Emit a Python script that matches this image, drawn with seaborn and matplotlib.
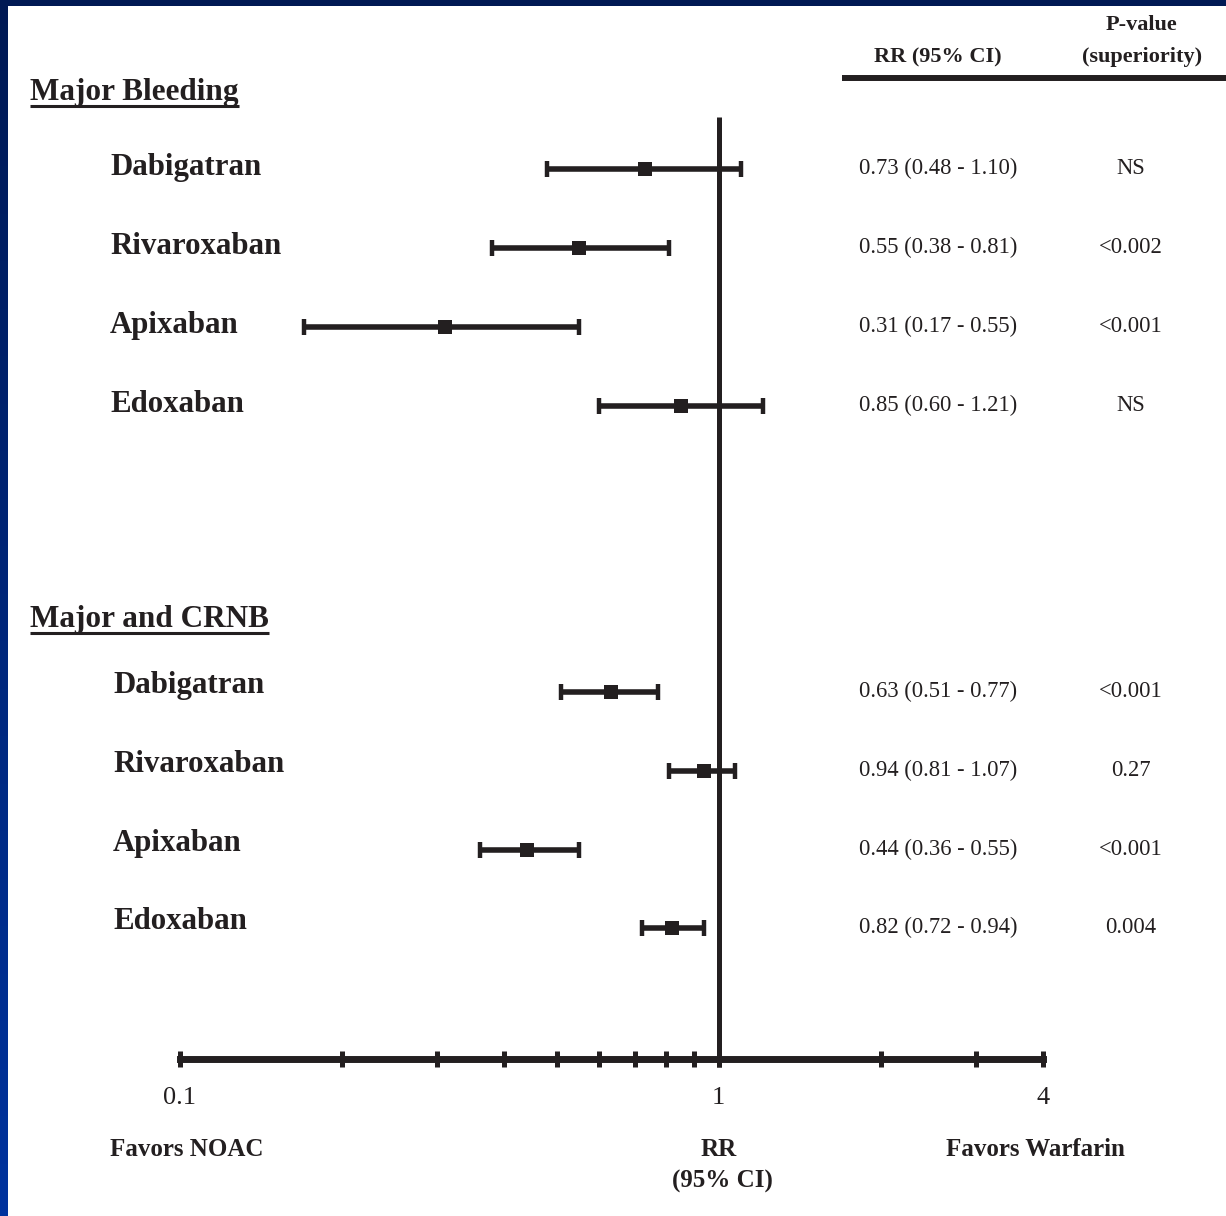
import numpy as np
import pandas as pd
import matplotlib
matplotlib.use("Agg")
import matplotlib.pyplot as plt
import matplotlib.transforms as mtransforms
from matplotlib.patches import Rectangle
from matplotlib.ticker import FixedLocator, NullFormatter
import seaborn as sns

# --- data ---
drugs = ["Dabigatran", "Rivaroxaban", "Apixaban", "Edoxaban"]
groups = ["Major Bleeding", "Major and CRNB"]

mb_rr = [0.73, 0.55, 0.31, 0.85]
mb_lo = [0.48, 0.38, 0.17, 0.60]
mb_hi = [1.10, 0.81, 0.55, 1.21]
mb_p = ["NS", "<0.002", "<0.001", "NS"]

crnb_rr = [0.63, 0.94, 0.44, 0.82]
crnb_lo = [0.51, 0.81, 0.36, 0.72]
crnb_hi = [0.77, 1.07, 0.55, 0.94]
crnb_p = ["<0.001", "0.27", "<0.001", "0.004"]

major_ticks = [0.1, 1, 4]
major_labels = ["0.1", "1", "4"]
minor_ticks = [0.2, 0.3, 0.4, 0.5, 0.6, 0.7, 0.8, 0.9, 2, 3]

# --- layout (pixel rows of the 1226x1216 canvas) ---
W, H = 1226, 1216
row_y = [[169, 248, 327, 406], [692, 771, 850, 928]]
head_base = [100, 627]
label_x = [110, 113]
label_dy = [6, 1]
axis_y = 1059
ink = "#231f20"

df = pd.DataFrame({
    "group": [groups[0]] * 4 + [groups[1]] * 4,
    "drug": drugs * 2,
    "rr": mb_rr + crnb_rr,
    "lo": mb_lo + crnb_lo,
    "hi": mb_hi + crnb_hi,
    "p": mb_p + crnb_p,
    "y": row_y[0] + row_y[1],
})

sns.set_theme(style="white")
plt.rcParams["font.family"] = ["Liberation Serif", "DejaVu Serif"]

fig = plt.figure(figsize=(W / 100, H / 100), dpi=100)

# blue frame with white slide area
bg = fig.add_axes([0, 0, 1, 1])
grad = np.linspace(0, 1, 256).reshape(-1, 1)
top_c = np.array([0.0, 0.10, 0.33])
bot_c = np.array([0.0, 0.20, 0.62])
img = top_c + (bot_c - top_c) * grad[..., None]
bg.imshow(img, extent=[0, 1, 0, 1], aspect="auto", origin="upper")
bg.add_patch(Rectangle((8 / W, 0), 1 - 8 / W, 1 - 6 / H, color="white", lw=0))
bg.set_xlim(0, 1)
bg.set_ylim(0, 1)
bg.axis("off")

ax = fig.add_axes([0, 0, 1, 1])
ax.patch.set_alpha(0)
ax.set_xscale("log")
ppd = (1043 - 180) / np.log10(4 / 0.1)
xmin = 0.1 * 10 ** (-180 / ppd)
xmax = 0.1 * 10 ** ((W - 180) / ppd)

ax.errorbar(df["rr"], df["y"], xerr=[df["rr"] - df["lo"], df["hi"] - df["rr"]],
            fmt="none", ecolor=ink, elinewidth=4, capsize=5.6, capthick=3.2, zorder=2)
sns.scatterplot(data=df, x="rr", y="y", marker="s", s=100, color=ink,
                linewidth=0, ax=ax, zorder=3)
ax.vlines(1, 117, 1067, color=ink, lw=3.6, zorder=1)

ax.set_xlim(xmin, xmax)
ax.set_ylim(H, 0)
ax.set_xlabel("")
ax.set_ylabel("")
ax.set_yticks([])

for s in ["top", "left", "right"]:
    ax.spines[s].set_visible(False)
ax.spines["bottom"].set_position(("data", axis_y))
ax.spines["bottom"].set_linewidth(5)
ax.spines["bottom"].set_color(ink)
ax.spines["bottom"].set_bounds(0.1, 4)
ax.xaxis.set_major_locator(FixedLocator(major_ticks))
ax.set_xticklabels(major_labels)
ax.xaxis.set_minor_locator(FixedLocator(minor_ticks))
ax.xaxis.set_minor_formatter(NullFormatter())
ax.tick_params(axis="x", which="both", direction="inout", length=12, width=3.6,
               color=ink, bottom=True)
ax.tick_params(axis="x", which="major", labelsize=19, labelcolor=ink, pad=14)

tx = mtransforms.blended_transform_factory(ax.transAxes, ax.transData)

# header of the table columns
ax.text(938 / W, 62, "RR (95% CI)", transform=tx, ha="center", va="baseline",
        fontsize=16, fontweight="bold", color=ink)
ax.text(1141 / W, 30, "P-value", transform=tx, ha="center", va="baseline",
        fontsize=16, fontweight="bold", color=ink)
ax.text(1142 / W, 62, "(superiority)", transform=tx, ha="center", va="baseline",
        fontsize=16, fontweight="bold", color=ink)
ax.plot([842 / W, 1], [78, 78], transform=tx, color=ink, lw=4.3,
        solid_capstyle="butt")

heads = []
for gi, g in enumerate(groups):
    t = ax.text(30 / W, head_base[gi], g, transform=tx, ha="left", va="baseline",
                fontsize=22.5, fontweight="bold", color=ink)
    heads.append(t)
    sub = df[df["group"] == g]
    for _, r in sub.iterrows():
        ax.text(label_x[gi] / W, r["y"] + label_dy[gi], r["drug"], transform=tx,
                ha="left", va="baseline", fontsize=22.2, fontweight="bold", color=ink)
        ax.text(938 / W, r["y"] + 5, f"{r['rr']:.2f} ({r['lo']:.2f} - {r['hi']:.2f})",
                transform=tx, ha="center", va="baseline", fontsize=16.3, color=ink)
        ax.text(1131 / W, r["y"] + 5, r["p"], transform=tx, ha="center",
                va="baseline", fontsize=16.3, color=ink)

# underlines for group headers
fig.canvas.draw()
rend = fig.canvas.get_renderer()
for gi, t in enumerate(heads):
    bb = t.get_window_extent(rend)
    ax.plot([bb.x0 / W, bb.x1 / W], [head_base[gi] + 6] * 2, transform=tx,
            color=ink, lw=2.2, solid_capstyle="butt")

# bottom captions
ax.text(110 / W, 1156, "Favors NOAC", transform=tx, ha="left", va="baseline",
        fontsize=18, fontweight="bold", color=ink)
ax.text(1035 / W, 1156, "Favors Warfarin", transform=tx, ha="center", va="baseline",
        fontsize=18, fontweight="bold", color=ink)
ax.text(719 / W, 1156, "RR", transform=tx, ha="center", va="baseline",
        fontsize=18, fontweight="bold", color=ink)
ax.text(722 / W, 1188, "(95% CI)", transform=tx, ha="center", va="baseline",
        fontsize=18, fontweight="bold", color=ink)

fig.savefig("out.png", dpi=100)
plt.close(fig)
